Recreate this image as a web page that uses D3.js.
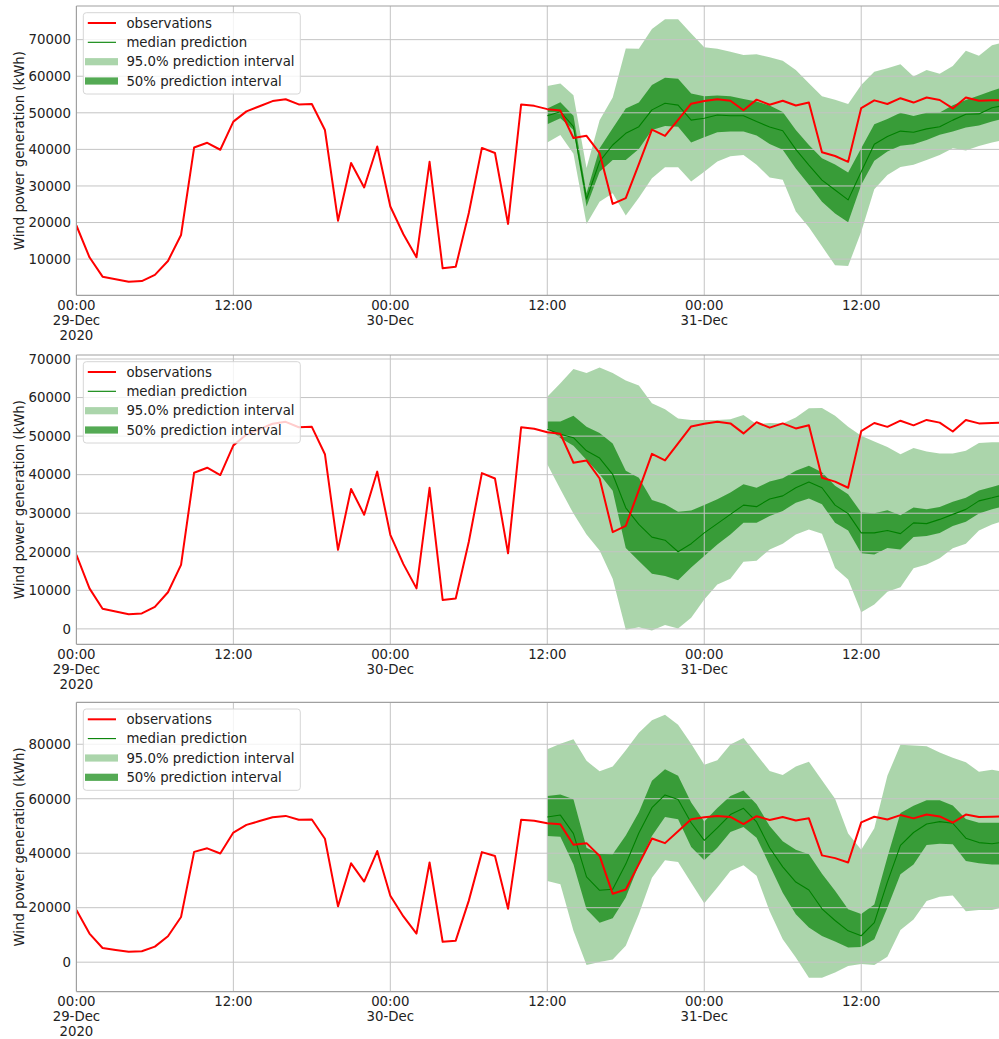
<!DOCTYPE html>
<html>
<head>
<meta charset="utf-8">
<script src="https://cdn.jsdelivr.net/npm/d3@7"></script>
<style>
  html, body { margin: 0; padding: 0; background: #fff; overflow: hidden; }
  svg { display: block; font-family: "DejaVu Sans", sans-serif; }
</style>
</head>
<body>
<svg id="chart" width="999" height="1039"></svg>
<script>
// ---------------- DATA ----------------
// hourly observations from 00:00 29-Dec-2020 to 23:00 31-Dec-2020
const observations = [19200, 10500, 5200, 4500, 3800, 4000, 5700, 9500, 16600, 40500, 41800, 39900,
  47600, 50400, 51800, 53200, 53700, 52300, 52400, 45300, 20500, 36300, 29600, 40800,
  24400, 16800, 10500, 36600, 7500, 7900, 22600, 40400, 39000, 19600, 52300, 51900,
  51000, 50600, 43100, 43700, 39000, 25100, 26700, 36000, 45400, 43700, 48100, 52500,
  53200, 53700, 53300, 50700, 53600, 52200, 53300, 52000, 52800, 39200, 38200, 36600,
  51300, 53400, 52400, 54000, 52800, 54200, 53500, 51200, 54200, 53300, 53400, 53500];

// predictions start at index 36 (12:00 30-Dec)
const predStartIndex = 36;

// panel 1
const p1Lo95 = [41900, 43900, 38800, 19600, 25700, 28000, 21900, 26800, 32100, 35100,
  35100, 31200, 33900, 36700, 38100, 38500, 35800, 32300,
  31700, 23000, 18700, 13500, 8300, 8100, 17500, 29100, 33000, 35200,
  35800, 37100, 38500, 40300, 39700, 40900, 41900, 42600];
const p1Hi95 = [57300, 58000, 54800, 34900, 48000, 54200, 67600, 67500, 72900, 75600,
  75600, 71700, 67900, 67500, 66700, 65800, 66000, 65200,
  64200, 61700, 58100, 54500, 53600, 52400, 57600, 61200, 62200, 63300,
  59900, 61700, 60700, 62800, 67000, 65600, 68500, 69300];
const p1Lo50 = [46900, 48500, 45300, 24400, 33900, 37100, 37100, 40100, 45300, 46400,
  46200, 41900, 43300, 44700, 44900, 44900, 43800, 41500,
  39900, 34800, 30300, 25700, 22500, 20100, 30300, 36900, 39400, 41000,
  41400, 42600, 44000, 44900, 46000, 46500, 47600, 48500];
const p1Hi50 = [51200, 52900, 49200, 28000, 40300, 45800, 51200, 52800, 57600, 59600,
  59300, 55300, 54500, 54700, 54500, 53800, 53100, 52000,
  50200, 45300, 41200, 37600, 35900, 33700, 40300, 46900, 48300, 50000,
  49100, 50000, 50100, 52100, 53500, 54700, 56000, 57200];
const p1Median = [49200, 50300, 46200, 26400, 36700, 41200, 44400, 46200, 50800, 52600,
  52100, 48000, 48500, 49400, 49200, 49200, 47600, 46100,
  45100, 40000, 35700, 31600, 28900, 26200, 33900, 41400, 43500, 45000,
  44700, 45600, 46200, 48000, 49600, 49700, 51400, 52100];

// panel 2
const p2Lo95 = [42700, 36200, 29900, 24500, 20300, 13000, -200, 400, -400, 1000,
  100, 2900, 7600, 11500, 13000, 17400, 17700, 20600,
  22100, 24500, 25800, 24700, 15800, 12800, 4300, 6300, 9600, 10800,
  15700, 16700, 18300, 20900, 22100, 25500, 27100, 28200];
const p2Hi95 = [60200, 63700, 67400, 66400, 67800, 66400, 64400, 63100, 58500, 57000,
  54600, 54200, 54200, 54200, 54400, 55500, 53100, 53400,
  53300, 54800, 57200, 57300, 55300, 52400, 50100, 48600, 47200, 45300,
  46900, 46000, 45500, 45500, 46200, 48200, 48400, 48400];
const p2Lo50 = [52100, 49500, 47500, 43800, 40100, 35800, 21000, 17600, 14300, 13700,
  12600, 15900, 18900, 21900, 24500, 27500, 27500, 29300,
  30600, 32700, 33800, 32300, 27500, 25500, 19600, 19300, 21000, 20600,
  23800, 24100, 24900, 26700, 27800, 29900, 31000, 31900];
const p2Hi50 = [53800, 53800, 55300, 52400, 50800, 48100, 41000, 39200, 33400, 32300,
  30400, 30700, 32100, 33600, 35400, 37500, 36600, 38200,
  39100, 41000, 42300, 40600, 37100, 34900, 30200, 30000, 30800, 29500,
  31500, 31000, 31600, 33000, 34000, 35900, 36800, 37800];
const p2Median = [51800, 50500, 49600, 46200, 44300, 40100, 31400, 27100, 23800, 23000,
  20000, 22100, 24900, 27300, 29700, 32100, 31700, 33700,
  34500, 36600, 38100, 36600, 32100, 29900, 24900, 24900, 25500, 24700,
  27500, 27300, 28400, 29700, 31000, 33200, 34000, 34900];

// panel 3
const p3Lo95 = [29800, 28600, 11500, -1000, 100, 1000, 6000, 17600, 31000, 37400,
  36800, 29200, 21600, 27400, 33500, 35600, 31700, 18700,
  8400, 1700, -5700, -5700, -3800, -1400, -700, -1000, 2000, 11800,
  15700, 22500, 24000, 24500, 18700, 19200, 19200, 20300];
const p3Hi95 = [78200, 80200, 81800, 73900, 70100, 71800, 77800, 84200, 88800, 90800,
  87200, 80200, 72500, 74100, 79900, 82300, 76200, 70200,
  68700, 71800, 73600, 66800, 60000, 47200, 41300, 49200, 68400, 79800,
  79500, 79300, 77000, 75000, 73400, 69900, 70600, 69800];
const p3Lo50 = [46300, 46000, 35900, 19400, 14500, 16100, 23700, 35900, 46300, 53300,
  52500, 42300, 37400, 42000, 47800, 49600, 45700, 35600,
  25500, 17600, 12700, 9600, 7600, 5400, 5600, 8400, 20000, 32300,
  35900, 43000, 43500, 43300, 37100, 36300, 35900, 35900];
const p3Hi50 = [61000, 61600, 59800, 42000, 39700, 39600, 46500, 55000, 66600, 70800,
  68400, 58600, 51600, 56600, 61000, 63000, 58000, 50000,
  44400, 41300, 39600, 32500, 26200, 19400, 17700, 21200, 38500, 54800,
  57400, 59400, 59400, 57500, 52600, 51200, 51200, 51200];
const p3Median = [53300, 54000, 47200, 31300, 26400, 26800, 36000, 47400, 56700, 61400,
  59700, 51200, 44700, 49300, 54200, 56500, 51500, 42000,
  35000, 29400, 26500, 19600, 15300, 11500, 9700, 14500, 29400, 42900,
  47600, 50700, 51600, 51000, 45500, 43900, 43500, 44100];

// axis settings
const p1YDomain = [110, 79200];
const p2YDomain = [-4000, 71040];
const p3YDomain = [-10800, 95400];
const p1YTicks = [10000, 20000, 30000, 40000, 50000, 60000, 70000];
const p2YTicks = [0, 10000, 20000, 30000, 40000, 50000, 60000, 70000];
const p3YTicks = [0, 20000, 40000, 60000, 80000];
const xTickHours = [0, 12, 24, 36, 48, 60];
const xTickLabels = [["00:00", "29-Dec", "2020"], ["12:00"], ["00:00", "30-Dec"], ["12:00"], ["00:00", "31-Dec"], ["12:00"]];
const legendLabels = ["observations", "median prediction", "95.0% prediction interval", "50% prediction interval"];
const yAxisTitle = "Wind power generation (kWh)";

// ---------------- DRAW ----------------
const svg = d3.select("#chart");
const t0 = new Date(2020, 11, 29, 0, 0, 0);
const times = observations.map((_, i) => d3.timeHour.offset(t0, i));
const predTimes = times.slice(predStartIndex);

const plotLeft = 76.4;
const plotRightAtLast = 1005.1; // last sample (23:00 31-Dec), beyond visible area
const panelHeight = 289.3;
const panelTops = [6, 355, 702.3];
const fontSize = 13.3;

const x = d3.scaleTime().domain([times[0], times[times.length - 1]]).range([plotLeft, plotRightAtLast]);

const panels = [
  {lo95: p1Lo95, hi95: p1Hi95, lo50: p1Lo50, hi50: p1Hi50, med: p1Median, dom: p1YDomain, ticks: p1YTicks},
  {lo95: p2Lo95, hi95: p2Hi95, lo50: p2Lo50, hi50: p2Hi50, med: p2Median, dom: p2YDomain, ticks: p2YTicks},
  {lo95: p3Lo95, hi95: p3Hi95, lo50: p3Lo50, hi50: p3Hi50, med: p3Median, dom: p3YDomain, ticks: p3YTicks}
];

const textColor = "#222";
const gridColor = "#c4c4c4";
const spineColor = "#a0a0a0";

panels.forEach((p, pi) => {
  const top = panelTops[pi];
  const bottom = top + panelHeight;
  const y = d3.scaleLinear().domain(p.dom).range([bottom, top]);
  const g = svg.append("g");

  const clipId = "clip" + pi;
  svg.append("clipPath").attr("id", clipId)
    .append("rect").attr("x", plotLeft).attr("y", top).attr("width", plotRightAtLast - plotLeft).attr("height", panelHeight);
  const plot = g.append("g").attr("clip-path", `url(#${clipId})`);

  // bands
  const area95 = d3.area().x((d, i) => x(predTimes[i])).y0((d, i) => y(p.lo95[i])).y1((d, i) => y(p.hi95[i]));
  const area50 = d3.area().x((d, i) => x(predTimes[i])).y0((d, i) => y(p.lo50[i])).y1((d, i) => y(p.hi50[i]));
  plot.append("path").datum(p.lo95).attr("d", area95).attr("fill", "green").attr("fill-opacity", 0.33);
  plot.append("path").datum(p.lo50).attr("d", area50).attr("fill", "green").attr("fill-opacity", 0.67);

  // grid
  plot.selectAll(".hg").data(p.ticks).enter().append("line")
    .attr("x1", plotLeft).attr("x2", plotRightAtLast)
    .attr("y1", d => y(d)).attr("y2", d => y(d))
    .attr("stroke", gridColor).attr("stroke-width", 1);
  plot.selectAll(".vg").data(xTickHours).enter().append("line")
    .attr("x1", d => x(times[d])).attr("x2", d => x(times[d]))
    .attr("y1", top).attr("y2", bottom)
    .attr("stroke", gridColor).attr("stroke-width", 1);

  // median
  const medLine = d3.line().x((d, i) => x(predTimes[i])).y(d => y(d));
  plot.append("path").datum(p.med).attr("d", medLine).attr("fill", "none")
    .attr("stroke", "green").attr("stroke-width", 1.1).attr("stroke-linejoin", "round");

  // observations
  const obsLine = d3.line().x((d, i) => x(times[i])).y(d => y(d));
  plot.append("path").datum(observations).attr("d", obsLine).attr("fill", "none")
    .attr("stroke", "red").attr("stroke-width", 2).attr("stroke-linejoin", "round");

  // spines
  g.append("line").attr("x1", plotLeft).attr("x2", plotLeft).attr("y1", top).attr("y2", bottom)
    .attr("stroke", spineColor).attr("stroke-width", 1.2);
  g.append("line").attr("x1", plotLeft).attr("x2", plotRightAtLast).attr("y1", top).attr("y2", top)
    .attr("stroke", spineColor).attr("stroke-width", 1.2);
  g.append("line").attr("x1", plotLeft).attr("x2", plotRightAtLast).attr("y1", bottom).attr("y2", bottom)
    .attr("stroke", spineColor).attr("stroke-width", 1.2);

  // y tick labels
  g.selectAll(".yt").data(p.ticks).enter().append("text")
    .attr("x", plotLeft - 5.5).attr("y", d => y(d)).attr("dy", "0.36em")
    .attr("text-anchor", "end").attr("font-size", fontSize).attr("fill", textColor)
    .text(d => d);

  // x tick labels
  xTickHours.forEach((h, k) => {
    const t = g.append("text").attr("text-anchor", "middle").attr("font-size", fontSize).attr("fill", textColor);
    xTickLabels[k].forEach((s, li) => {
      t.append("tspan").attr("x", x(times[h])).attr("y", bottom + 14.5 + li * 15).text(s);
    });
  });

  // y axis title
  g.append("text")
    .attr("transform", `translate(19,${(top + bottom) / 2}) rotate(-90)`)
    .attr("text-anchor", "middle").attr("dy", "0.35em")
    .attr("font-size", fontSize).attr("fill", textColor)
    .text(yAxisTitle);

  // legend
  const lg = g.append("g").attr("transform", `translate(83.3,${top + 6.7})`);
  lg.append("rect").attr("x", 0).attr("y", 0).attr("width", 217).attr("height", 81.3)
    .attr("rx", 3).attr("fill", "white").attr("fill-opacity", 0.8)
    .attr("stroke", "#d6d6d6").attr("stroke-width", 1);
  const rowY = [10.3, 29.6, 49, 68.3];
  lg.append("line").attr("x1", 4.5).attr("x2", 32.7).attr("y1", rowY[0]).attr("y2", rowY[0])
    .attr("stroke", "red").attr("stroke-width", 2);
  lg.append("line").attr("x1", 4.5).attr("x2", 32.7).attr("y1", rowY[1]).attr("y2", rowY[1])
    .attr("stroke", "green").attr("stroke-width", 1.1);
  lg.append("rect").attr("x", 1.7).attr("y", rowY[2] - 3.6).attr("width", 33).attr("height", 7.2)
    .attr("fill", "green").attr("fill-opacity", 0.33);
  lg.append("rect").attr("x", 1.7).attr("y", rowY[3] - 3.6).attr("width", 33).attr("height", 7.2)
    .attr("fill", "green").attr("fill-opacity", 0.67);
  lg.selectAll(".lt").data(legendLabels).enter().append("text")
    .attr("x", 43.1).attr("y", (d, i) => rowY[i]).attr("dy", "0.36em")
    .attr("font-size", fontSize).attr("fill", textColor)
    .text(d => d);
});
</script>
</body>
</html>
